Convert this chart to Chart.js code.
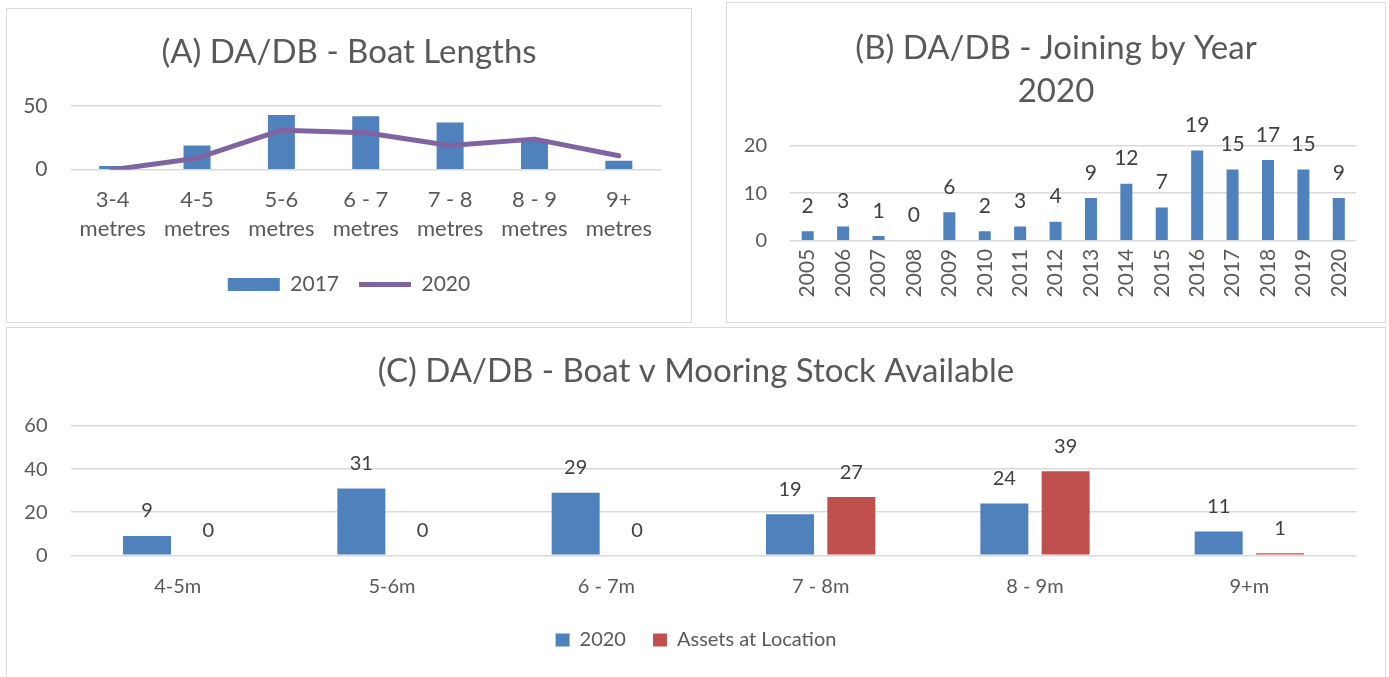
<!DOCTYPE html>
<html>
<head>
<meta charset="utf-8">
<script src="https://cdn.jsdelivr.net/npm/chart.js@4.4.1/dist/chart.umd.min.js"></script>
<style>
  html, body { margin: 0; padding: 0; background: #fff; width: 1389px; height: 677px; overflow: hidden; }
  .panel { position: absolute; box-sizing: border-box; border: 1px solid #d9d9d9; background: #fff; }
  .panel canvas { display: block; }
</style>
</head>
<body>
<div class="panel" style="left:6px; top:8px; width:686px; height:315px;"><canvas id="chartA" width="684" height="313"></canvas></div>
<div class="panel" style="left:726px; top:2px; width:660px; height:321px;"><canvas id="chartB" width="658" height="319"></canvas></div>
<div class="panel" style="left:6px; top:327px; width:1380px; height:352px;"><canvas id="chartC" width="1378" height="350"></canvas></div>
<script>
// ---- data ----
const lengthCategories = [['3-4', 'metres'], ['4-5', 'metres'], ['5-6', 'metres'], ['6 - 7', 'metres'], ['7 - 8', 'metres'], ['8 - 9', 'metres'], ['9+', 'metres']];
const lengths2017 = [3, 19, 43, 42, 37, 24, 7];
const lengths2020 = [0, 9, 31, 29, 19, 24, 11];
const lengthTicks = [0, 50];

const joinYears = ['2005', '2006', '2007', '2008', '2009', '2010', '2011', '2012', '2013', '2014', '2015', '2016', '2017', '2018', '2019', '2020'];
const joinCounts = [2, 3, 1, 0, 6, 2, 3, 4, 9, 12, 7, 19, 15, 17, 15, 9];
const joinTicks = [0, 10, 20];

const mooringCategories = ['4-5m', '5-6m', '6 - 7m', '7 - 8m', '8 - 9m', '9+m'];
const boats2020 = [9, 31, 29, 19, 24, 11];
const assetsAtLocation = [0, 0, 0, 27, 39, 1];
const mooringTicks = [0, 20, 40, 60];

// ---- shared styling ----
const FONT = 'Lato, "Open Sans", sans-serif';
const BLUE = '#4F81BD';
const RED = '#C0504D';
const PURPLE = '#8064A2';
const GRID = '#d9d9d9';
const TEXT = '#595959';
const LABEL = '#404040';

Chart.defaults.font.family = FONT;
Chart.defaults.font.size = 20;
Chart.defaults.color = TEXT;
Chart.defaults.animation = false;
Chart.defaults.plugins.tooltip.enabled = false;

// chart heading drawn centred across the canvas
const panelTitle = {
  id: 'panelTitle',
  afterDraw(chart, args, opts) {
    const ctx = chart.ctx;
    ctx.save();
    ctx.font = opts.size + 'px ' + FONT;
    ctx.fillStyle = TEXT;
    ctx.textAlign = 'center';
    ctx.textBaseline = 'middle';
    opts.lines.forEach((t, i) => ctx.fillText(t, chart.width / 2 + (opts.dx || 0), opts.y[i]));
    ctx.restore();
  }
};

// value written above each bar
const valueLabels = {
  id: 'valueLabels',
  afterDatasetsDraw(chart, args, opts) {
    const ctx = chart.ctx;
    ctx.save();
    ctx.font = opts.size + 'px ' + FONT;
    ctx.fillStyle = LABEL;
    ctx.textAlign = 'center';
    ctx.textBaseline = 'middle';
    chart.data.datasets.forEach((ds, di) => {
      const meta = chart.getDatasetMeta(di);
      if (meta.type !== 'bar') return;
      meta.data.forEach((bar, i) => ctx.fillText(String(ds.data[i]), bar.x, bar.y - opts.offset));
    });
    ctx.restore();
  }
};

function valueAxis(ticks, width, size) {
  return {
    min: ticks[0],
    max: ticks[ticks.length - 1],
    afterBuildTicks: s => { s.ticks = ticks.map(v => ({ value: v })); },
    afterFit: s => { s.width = width; },
    border: { display: false },
    grid: { color: GRID, lineWidth: 1.5, drawTicks: false },
    ticks: { padding: 23, color: TEXT, font: { size: size } }
  };
}

function spacerAxis(width) {
  return {
    position: 'right',
    display: true,
    afterFit: s => { s.width = width; },
    border: { display: false },
    grid: { display: false, drawTicks: false },
    ticks: { display: false }
  };
}

// (A) boat lengths: 2017 bars with the 2020 line over them
new Chart(document.getElementById('chartA'), {
  type: 'bar',
  data: {
    labels: lengthCategories,
    datasets: [
      { type: 'bar', label: '2017', data: lengths2017, backgroundColor: BLUE, borderWidth: 0,
        categoryPercentage: 1, barPercentage: 0.32, order: 2, pointStyle: 'rect' },
      { type: 'line', label: '2020', data: lengths2020, borderColor: PURPLE, backgroundColor: PURPLE,
        borderWidth: 5, pointRadius: 0, tension: 0, borderCapStyle: 'round', borderJoinStyle: 'round',
        order: 1, pointStyle: 'line' }
    ]
  },
  options: {
    responsive: false,
    layout: { padding: { top: 97, right: 0, bottom: 17, left: 0 } },
    scales: {
      x: {
        afterFit: s => { s.height = 84.3; },
        border: { display: false },
        grid: { display: false, drawTicks: false },
        ticks: { padding: 16, color: TEXT, font: { size: 22, lineHeight: 1.3 }, maxRotation: 0, autoSkip: false }
      },
      y: valueAxis(lengthTicks, 63.5, 21),
      pad: spacerAxis(30)
    },
    plugins: {
      legend: {
        position: 'bottom',
        labels: { usePointStyle: true, pointStyleWidth: 52, boxHeight: 13, padding: 20, color: TEXT,
                  font: { size: 21 }, sort: (a, b) => a.datasetIndex - b.datasetIndex }
      },
      panelTitle: { lines: ['(A) DA/DB - Boat Lengths'], y: [43], size: 33 }
    }
  },
  plugins: [panelTitle]
});

// (B) members joining by year
new Chart(document.getElementById('chartB'), {
  type: 'bar',
  data: {
    labels: joinYears,
    datasets: [
      { label: '2020', data: joinCounts, backgroundColor: BLUE, borderWidth: 0,
        categoryPercentage: 1, barPercentage: 0.34 }
    ]
  },
  options: {
    responsive: false,
    layout: { padding: { top: 142.7, right: 28.5, bottom: 0, left: 0 } },
    scales: {
      x: {
        afterFit: s => { s.height = 81.3; },
        border: { display: false },
        grid: { display: false, drawTicks: false },
        ticks: { padding: 8, color: TEXT, font: { size: 21 }, minRotation: 90, maxRotation: 90, autoSkip: false }
      },
      y: valueAxis(joinTicks, 63, 20)
    },
    plugins: {
      legend: { display: false },
      panelTitle: { lines: ['(B) DA/DB - Joining by Year', '2020'], y: [45, 88], size: 33 },
      valueLabels: { offset: 25, size: 21 }
    }
  },
  plugins: [panelTitle, valueLabels]
});

// (C) boats against mooring stock available
new Chart(document.getElementById('chartC'), {
  type: 'bar',
  data: {
    labels: mooringCategories,
    datasets: [
      { label: '2020', data: boats2020, backgroundColor: BLUE, borderWidth: 0,
        categoryPercentage: 0.572, barPercentage: 0.783 },
      { label: 'Assets at Location', data: assetsAtLocation, backgroundColor: RED, borderWidth: 0,
        categoryPercentage: 0.572, barPercentage: 0.783 }
    ]
  },
  options: {
    responsive: false,
    layout: { padding: { top: 98, right: 0, bottom: 18, left: 0 } },
    scales: {
      x: {
        afterFit: s => { s.height = 47.7; },
        border: { display: false },
        grid: { display: false, drawTicks: false },
        ticks: { padding: 19.4, color: TEXT, font: { size: 20 }, maxRotation: 0, autoSkip: false }
      },
      y: valueAxis(mooringTicks, 63.5, 20),
      pad: spacerAxis(28.5)
    },
    plugins: {
      legend: {
        position: 'bottom',
        labels: { boxWidth: 14, boxHeight: 13, padding: 27, color: TEXT, font: { size: 20 } }
      },
      panelTitle: { lines: ['(C) DA/DB - Boat v Mooring Stock Available'], y: [43.7], size: 33 },
      valueLabels: { offset: 25, size: 20 }
    }
  },
  plugins: [panelTitle, valueLabels]
});
</script>
</body>
</html>
